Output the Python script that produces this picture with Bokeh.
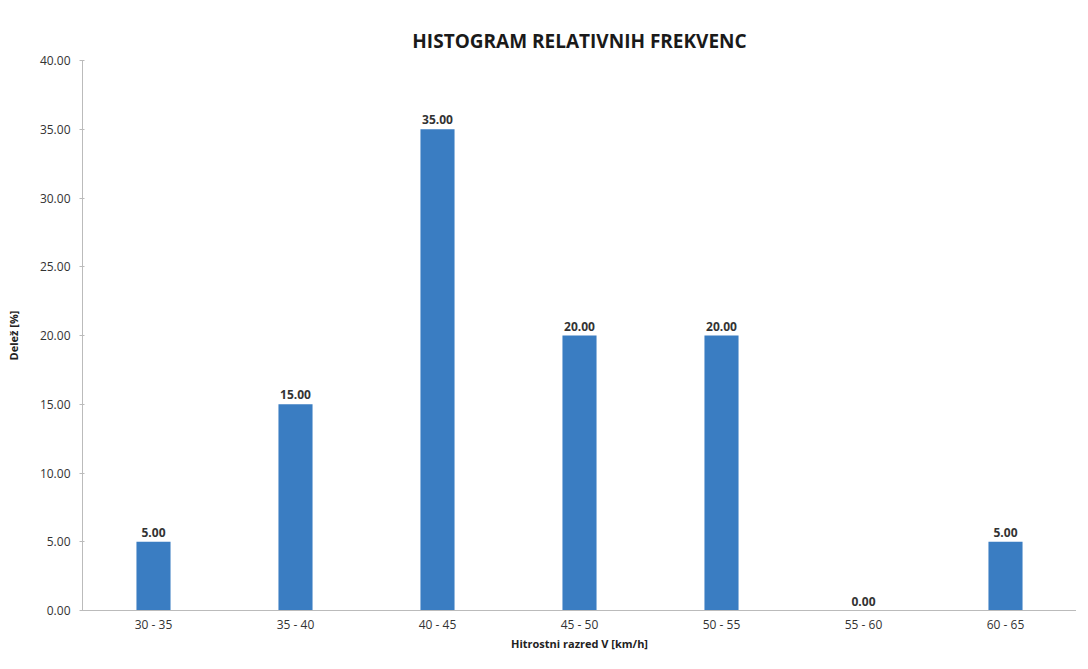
from bokeh.plotting import figure
from bokeh.models import ColumnDataSource, Range1d, FixedTicker, NumeralTickFormatter, LabelSet
from bokeh.core.properties import value
from bokeh.embed import file_html
from bokeh.resources import INLINE

categories = ["30 - 35", "35 - 40", "40 - 45", "45 - 50", "50 - 55", "55 - 60", "60 - 65"]
values = [5.0, 15.0, 35.0, 20.0, 20.0, 0.0, 5.0]
labels = ["%.2f" % v for v in values]
y_ticks = [0, 5, 10, 15, 20, 25, 30, 35, 40]

src = ColumnDataSource(dict(cat=categories, val=values, lab=labels))

p = figure(x_range=categories, y_range=Range1d(0, 40), width=1076, height=653,
           output_backend="svg", toolbar_location=None,
           min_border_left=82, min_border_right=0, min_border_top=60, min_border_bottom=0)

p.title.text = "HISTOGRAM RELATIVNIH FREKVENC"
p.title.align = "center"
p.title.text_font = "Open Sans"
p.title.text_font_size = "19px"
p.title.text_font_style = "bold"
p.title.text_color = "#1a1a1a"
p.title.offset = 0
p.title.standoff = 14

p.vbar(x="cat", top="val", width=0.24, source=src, color="#3a7dc2", line_color=None)

lbl = LabelSet(x="cat", y="val", text="lab", source=src, text_align="center",
               text_baseline="bottom", y_offset=5, text_font_size="12px",
               text_font=value("Open Sans"), text_font_style="bold", text_color="#333333")
p.add_layout(lbl)

p.yaxis.ticker = FixedTicker(ticks=y_ticks)
p.yaxis.formatter = NumeralTickFormatter(format="0.00")
p.yaxis.axis_label = "Delež [%]"
p.xaxis.axis_label = "Hitrostni razred V [km/h]"
for ax in (p.xaxis, p.yaxis):
    ax.axis_label_text_font = "Open Sans"
    ax.axis_label_text_font_style = "bold"
    ax.axis_label_text_font_size = "11px"
    ax.axis_label_text_color = "#222222"
    ax.major_label_text_font = "Open Sans"
    ax.major_label_text_font_size = "12px"
    ax.major_label_text_color = "#333333"
    ax.axis_line_color = "#bbbbbb"
    ax.major_tick_line_color = "#bbbbbb"
    ax.minor_tick_line_color = None
p.xaxis.major_tick_line_color = None
p.xaxis.major_tick_out = 0
p.xaxis.major_tick_in = 0
p.xaxis.major_label_standoff = 5
p.xaxis.axis_label_standoff = 0
p.yaxis.major_tick_out = 3
p.yaxis.major_label_standoff = 9
p.yaxis.axis_label_standoff = 16
p.xgrid.grid_line_color = None
p.ygrid.grid_line_color = None
p.outline_line_color = None
p.x_range.range_padding = 0.0

open("out.html", "w").write(file_html(p, INLINE))
